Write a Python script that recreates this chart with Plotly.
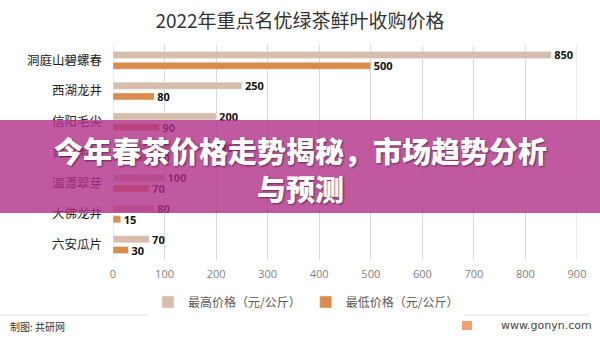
import plotly.graph_objects as go

categories = ["洞庭山碧螺春", "西湖龙井", "信阳毛尖", "黄山毛峰", "湄潭翠芽", "大佛龙井", "六安瓜片"]
max_price = [850, 250, 200, 190, 100, 80, 70]
min_price = [500, 80, 90, 80, 70, 15, 30]
x_ticks = [0, 100, 200, 300, 400, 500, 600, 700, 800, 900]
series_names = ["最高价格（元/公斤）", "最低价格（元/公斤）"]

CJK = "Noto Sans CJK SC"
PW = 464.0
PH = 215.0
L = 113
T = 45


def px(x):
    return (x - L) / PW


def py(y):
    return (T + PH - y) / PH


fig = go.Figure()
fig.add_trace(go.Bar(
    y=categories, x=max_price, orientation="h", name=series_names[0],
    marker_color="#D7BEAB", text=max_price, textposition="outside",
    textfont=dict(family="Open Sans", size=11, color="#111111", weight="bold"),
    cliponaxis=False,
))
fig.add_trace(go.Bar(
    y=categories, x=min_price, orientation="h", name=series_names[1],
    marker_color="#D98C4B", text=min_price, textposition="outside",
    textfont=dict(family="Open Sans", size=11, color="#111111", weight="bold"),
    cliponaxis=False,
))

fig.update_layout(
    width=600, height=338,
    margin=dict(l=113, r=23, t=45, b=78, autoexpand=False),
    paper_bgcolor="white", plot_bgcolor="white",
    barmode="group", bargap=0.3, bargroupgap=0.35,
    uniformtext=dict(minsize=11, mode="show"),
    title=dict(text="2022年重点名优绿茶鲜叶收购价格", x=0.5, xanchor="center",
               y=1 - 21 / 338, yanchor="middle",
               font=dict(family=CJK, size=19, color="#333333")),
    font=dict(family=CJK),
    showlegend=True,
    legend=dict(orientation="h", x=px(306), xanchor="center", xref="paper",
                y=py(302), yanchor="middle", yref="paper",
                font=dict(family=CJK, size=12, color="#595959"),
                itemclick=False, traceorder="normal", itemwidth=30),
    xaxis=dict(range=[0, 900], tickvals=x_ticks, showgrid=True, automargin=False,
               gridcolor="#D9D9D9", gridwidth=1, zeroline=False, tickangle=0,
               showline=False, ticks="", ticklabelstandoff=6,
               tickfont=dict(family="Open Sans", size=11, color="#7F7F7F")),
    yaxis=dict(categoryorder="array", categoryarray=categories, automargin=False,
               range=[6.5, -0.5], showgrid=False, zeroline=False,
               ticks="", ticklabelstandoff=10,
               tickfont=dict(family=CJK, size=12.5, color="#222222")),
)

for xv in [0, 900]:
    fig.add_shape(type="line", xref="x", yref="paper", x0=xv, x1=xv, y0=0, y1=1,
                  line=dict(color="#D9D9D9", width=1), layer="below")

# footer separator
fig.add_shape(type="line", xref="paper", yref="paper",
              x0=px(0), x1=px(590), y0=py(315), y1=py(315),
              line=dict(color="#EBEBEB", width=1.5))

fig.add_annotation(text="制图: 共研网", xref="paper", yref="paper",
                   x=px(8), xanchor="left", y=py(326), yanchor="middle",
                   showarrow=False, font=dict(family=CJK, size=10, color="#333333"))
fig.add_shape(type="rect", xref="paper", yref="paper",
              x0=px(462), x1=px(472), y0=py(330), y1=py(321),
              fillcolor="#F0A070", line=dict(width=0))
fig.add_annotation(text="www.gonyn.com", xref="paper", yref="paper",
                   x=px(594), xanchor="right", y=py(325), yanchor="middle",
                   showarrow=False,
                   font=dict(family="DejaVu Sans", size=11, color="#444444"))

# banner overlay
fig.add_shape(type="rect", xref="paper", yref="paper",
              x0=px(0), x1=px(600), y0=py(213), y1=py(120),
              fillcolor="rgba(178,48,138,0.80)", line=dict(width=0), layer="above")
fig.add_annotation(text="今年春茶价格走势揭秘，市场趋势分析<br>与预测",
                   xref="paper", yref="paper",
                   x=px(300), xanchor="center", y=py(169), yanchor="middle",
                   showarrow=False, align="center",
                   font=dict(family=CJK, size=29, color="white", weight=900,
                             shadow="1px 1px 2px rgba(0,0,0,0.5)"))

fig.write_html("out.html")
